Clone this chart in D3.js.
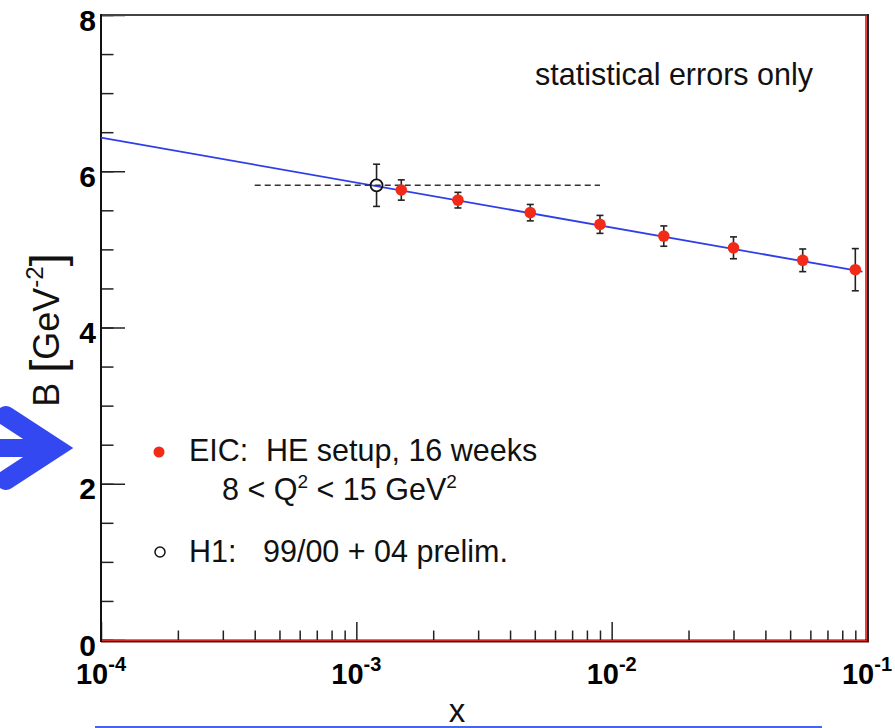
<!DOCTYPE html>
<html>
<head>
<meta charset="utf-8">
<script src="https://cdn.jsdelivr.net/npm/d3@7"></script>
<style>
    body { margin: 0; background: #fff; }
    svg { display: block; font-family: "Liberation Sans", Arial, Helvetica, sans-serif; }
    text { white-space: pre; }
</style>
</head>
<body>
<div id="chart"></div>
<script>
// EIC pseudo-data (red points)
var eicX = [0.0015, 0.0025, 0.0048, 0.009, 0.016, 0.03, 0.056, 0.09];
var eicB = [5.76, 5.63, 5.47, 5.32, 5.17, 5.02, 4.86, 4.74];
var eicErr = [0.13, 0.10, 0.105, 0.115, 0.13, 0.14, 0.145, 0.27];

// H1 point (open circle) and its x range (dashed)
var h1X = [0.0012];
var h1B = [5.82];
var h1Err = [0.27];
var h1Range = [0.0004, 0.009];

// fit line end points
var fitX = [0.0001, 0.096];
var fitB = [6.43, 4.715];

// tick values
var xMajor = [1e-4, 1e-3, 1e-2, 1e-1];
var xExp = ["-4", "-3", "-2", "-1"];
var yMajor = [0, 2, 4, 6, 8];
var yMinor = d3.range(0, 8.01, 0.5);

var xMinor = [];
[1e-4, 1e-3, 1e-2].forEach(function(dec) {
    for (var k = 2; k <= 9; k++) xMinor.push(k * dec)
});

var width = 895, height = 728;
// note: "top" is taken by window.top, so prefix these
var mLeft = 101, mRight = 867, mTop = 15, mBottom = 640;

var svg = d3.select('#chart')
    .append('svg')
    .attr('width', width)
    .attr('height', height)

var x = d3.scaleLog()
    .domain([1e-4, 1e-1])
    .range([mLeft, mRight])

var y = d3.scaleLinear()
    .domain([0, 8])
    .range([mBottom, mTop])

var blue = "#2f3fe8";
var red = "#f22a18";

//// ticks
function styleAxis(g) {
    g.select('.domain').remove()
    g.selectAll('line').attr('stroke', '#222').attr('stroke-width', 1.5)
}

svg.append('g')
    .attr('transform', 'translate(0,' + mBottom + ')')
    .call(d3.axisBottom(x).tickValues(xMinor).tickSize(-9.5).tickFormat(''))
    .call(styleAxis)

svg.append('g')
    .attr('transform', 'translate(0,' + mBottom + ')')
    .call(d3.axisBottom(x).tickValues(xMajor).tickSize(-18).tickFormat(''))
    .call(styleAxis)

svg.append('g')
    .attr('transform', 'translate(' + mLeft + ',0)')
    .call(d3.axisLeft(y).tickValues(yMinor).tickSize(-12.5).tickFormat(''))
    .call(styleAxis)

var yAxisG = svg.append('g')
    .attr('transform', 'translate(' + mLeft + ',0)')
    .call(d3.axisLeft(y).tickValues(yMajor).tickSize(-24).tickPadding(5).tickFormat(d3.format('d')))
    .call(styleAxis)

yAxisG.selectAll('text')
    .attr('dy', 15)
    .attr('fill', '#000')
    .style('font-size', '30px')
    .style('font-weight', 'bold')

// x labels 10^n
var xLab = svg.append('g')
    .selectAll('text')
    .data(xMajor)
    .enter()
    .append('text')
    .attr('x', function(d) { return x(d) })
    .attr('y', 684)
    .attr('text-anchor', 'middle')
    .style('font-weight', 'bold')
    .style('font-size', '29px')
xLab.append('tspan').text('10')
xLab.append('tspan')
    .attr('dy', -13)
    .style('font-size', '20px')
    .text(function(d, i) { return xExp[i] })

//// frame
svg.append('line')
    .attr('x1', mLeft).attr('x2', mRight + 1)
    .attr('y1', mTop).attr('y2', mTop)
    .attr('stroke', '#444').attr('stroke-width', 2)

svg.append('line')
    .attr('x1', mRight + 1).attr('x2', mRight + 1)
    .attr('y1', mTop - 1).attr('y2', mBottom + 2)
    .attr('stroke', '#222').attr('stroke-width', 2)
svg.append('line')
    .attr('x1', mRight - 1).attr('x2', mRight - 1)
    .attr('y1', mTop + 1).attr('y2', mBottom)
    .attr('stroke', '#e8413a').attr('stroke-width', 2)

svg.append('line')
    .attr('x1', mLeft).attr('x2', mRight + 2)
    .attr('y1', mBottom + 1).attr('y2', mBottom + 1)
    .attr('stroke', '#5a0d0d').attr('stroke-width', 3)
svg.append('line')
    .attr('x1', mLeft).attr('x2', mRight)
    .attr('y1', mBottom + 0.5).attr('y2', mBottom + 0.5)
    .attr('stroke', '#d42a22').attr('stroke-width', 1.2)

svg.append('line')
    .attr('x1', mLeft).attr('x2', mLeft)
    .attr('y1', mTop - 1).attr('y2', mBottom + 2)
    .attr('stroke', '#111').attr('stroke-width', 2)

//// fit line
svg.append('path')
    .datum(d3.zip(fitX, fitB))
    .attr('fill', 'none')
    .attr('stroke', blue)
    .attr('stroke-width', 1.8)
    .attr('d', d3.line()
        .x(function(d) { return x(d[0]) })
        .y(function(d) { return y(d[1]) }))

// dashed H1 range
svg.append('line')
    .attr('x1', x(h1Range[0])).attr('x2', x(h1Range[1]))
    .attr('y1', y(h1B[0])).attr('y2', y(h1B[0]))
    .attr('stroke', '#333')
    .attr('stroke-width', 1.5)
    .attr('stroke-dasharray', '6,4')

//// error bars
function errorBars(xs, bs, es, gap) {
    var data = d3.zip(xs, bs, es)
    var g = svg.append('g').attr('stroke', '#222').attr('stroke-width', 1.6)
    data.forEach(function(d) {
        var cx = x(d[0]), lo = y(d[1] - d[2]), hi = y(d[1] + d[2]), c = y(d[1])
        g.append('line').attr('x1', cx).attr('x2', cx).attr('y1', hi).attr('y2', c - gap)
        g.append('line').attr('x1', cx).attr('x2', cx).attr('y1', c + gap).attr('y2', lo)
        g.append('line').attr('x1', cx - 3.5).attr('x2', cx + 3.5).attr('y1', hi).attr('y2', hi)
        g.append('line').attr('x1', cx - 3.5).attr('x2', cx + 3.5).attr('y1', lo).attr('y2', lo)
    })
}
errorBars(eicX, eicB, eicErr, 0)
errorBars(h1X, h1B, h1Err, 6)

svg.append('g')
    .selectAll('circle')
    .data(d3.zip(eicX, eicB))
    .enter()
    .append('circle')
    .attr('cx', function(d) { return x(d[0]) })
    .attr('cy', function(d) { return y(d[1]) })
    .attr('r', 5.8)
    .attr('fill', red)

svg.append('g')
    .selectAll('circle')
    .data(d3.zip(h1X, h1B))
    .enter()
    .append('circle')
    .attr('cx', function(d) { return x(d[0]) })
    .attr('cy', function(d) { return y(d[1]) })
    .attr('r', 6)
    .attr('fill', 'none')
    .attr('stroke', '#111')
    .attr('stroke-width', 1.8)

//// texts
svg.append('text')
    .attr('x', 535).attr('y', 85)
    .style('font-size', '30.5px')
    .attr('fill', '#111')
    .text('statistical errors only')

var legend = svg.append('g').attr('fill', '#111').style('font-size', '30.5px')

legend.append('circle').attr('cx', 159).attr('cy', 452).attr('r', 5.5).attr('fill', red)
var l1 = legend.append('text').attr('y', 461)
l1.append('tspan').attr('x', 189).text('EIC:')
l1.append('tspan').attr('x', 266).text('HE setup, 16 weeks')

var l2 = legend.append('text').attr('x', 222).attr('y', 500)
l2.append('tspan').text('8 < Q')
l2.append('tspan').attr('dy', -12).style('font-size', '19px').text('2')
l2.append('tspan').attr('dy', 12).text(' < 15 GeV')
l2.append('tspan').attr('dy', -12).style('font-size', '19px').text('2')

legend.append('circle').attr('cx', 160).attr('cy', 552).attr('r', 5)
    .attr('fill', 'none').attr('stroke', '#111').attr('stroke-width', 1.5)
var l3 = legend.append('text').attr('y', 562)
l3.append('tspan').attr('x', 189).text('H1:')
l3.append('tspan').attr('x', 263).text('99/00 + 04 prelim.')

// y title
var yt = svg.append('text')
    .attr('transform', 'translate(59,330) rotate(-90)')
    .attr('text-anchor', 'middle')
    .attr('fill', '#111')
    .style('font-size', '36px')
yt.append('tspan').text('B ')
yt.append('tspan').style('font-size', '47px').attr('dy', 4).text('[')
yt.append('tspan').attr('dy', -4).text('GeV')
yt.append('tspan').attr('dy', -16).style('font-size', '24px').text('-2')
yt.append('tspan').attr('dy', 20).style('font-size', '47px').text(']')

// x title
svg.append('text')
    .attr('x', 457).attr('y', 722)
    .attr('text-anchor', 'middle')
    .attr('fill', '#111')
    .style('font-size', '33px')
    .text('x')

//// slide decorations: arrow and underline
svg.append('path')
    .attr('d', 'M6,416 L55,448 L6,480')
    .attr('fill', 'none')
    .attr('stroke', '#3448f2')
    .attr('stroke-width', 20)
    .attr('stroke-linecap', 'round')
svg.append('rect')
    .attr('x', 0).attr('y', 439).attr('width', 50).attr('height', 18)
    .attr('fill', '#3448f2')

svg.append('line')
    .attr('x1', 95).attr('x2', 822)
    .attr('y1', 727).attr('y2', 727)
    .attr('stroke', '#4466ee').attr('stroke-width', 2)
</script>
</body>
</html>
